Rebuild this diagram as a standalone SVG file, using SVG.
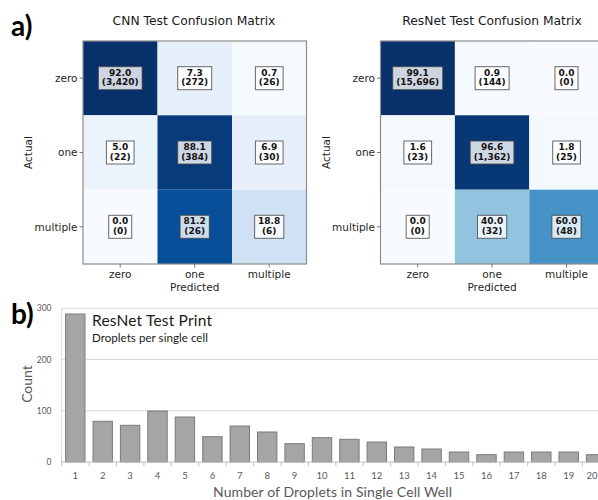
<svg xmlns="http://www.w3.org/2000/svg" width="598" height="500" viewBox="0 0 598 500">
<style>
.title{font-family:"DejaVu Sans",sans-serif;font-size:12.3px;fill:#1a1a1a;text-anchor:middle}
.tick{font-family:"DejaVu Sans",sans-serif;font-size:10.5px;fill:#262626}
.ytick{text-anchor:end}
.xtick{text-anchor:middle}
.frame{fill:none;stroke:#8c8c8c;stroke-width:1.2}
.tk{stroke:#555;stroke-width:0.8}
.box{fill:#fff;fill-opacity:0.8;stroke:#444;stroke-opacity:0.8;stroke-width:1}
.val{font-family:"DejaVu Sans",sans-serif;font-weight:bold;font-size:9px;fill:#111;text-anchor:middle}
.panel{font-family:Lato,"Open Sans",sans-serif;font-weight:bold;font-size:28px;fill:#000}
.bar{fill:#a5a5a5;stroke:#7a7a7a;stroke-width:1}
.grid{stroke:#d9d9d9;stroke-width:1}
.btick{font-family:Lato,"Open Sans",sans-serif;font-size:9.5px;fill:#595959;text-anchor:middle}
.bytick{font-family:Lato,"Open Sans",sans-serif;font-size:8.5px;fill:#595959;text-anchor:end}
.bax{font-family:Lato,"Open Sans",sans-serif;fill:#595959}
.note{font-family:Lato,"Open Sans",sans-serif;fill:#1a1a1a}
</style>

<text class="panel" x="11" y="36">a)</text>
<text class="panel" x="11" y="324">b)</text>

<g id="cnn-matrix">
  <text class="title" x="194" y="25">CNN Test Confusion Matrix</text>
  <rect x="83" y="41" width="74.5" height="74.3" fill="#08306b"/>
  <rect x="157.5" y="41" width="74.5" height="74.3" fill="#e7f0fa"/>
  <rect x="232" y="41" width="74.5" height="74.3" fill="#f5fafe"/>
  <rect x="83" y="115.3" width="74.5" height="74.4" fill="#ebf3fb"/>
  <rect x="157.5" y="115.3" width="74.5" height="74.4" fill="#083b7c"/>
  <rect x="232" y="115.3" width="74.5" height="74.4" fill="#e7f0fa"/>
  <rect x="83" y="189.7" width="74.5" height="74.3" fill="#f7fbff"/>
  <rect x="157.5" y="189.7" width="74.5" height="74.3" fill="#084f99"/>
  <rect x="232" y="189.7" width="74.5" height="74.3" fill="#cfe1f2"/>
  <rect class="frame" x="83" y="41" width="223.5" height="223"/>
  <path class="tk" d="M79.5 78.2H83M79.5 152.5H83M79.5 226.8H83M120.2 264V267.5M194.7 264V267.5M269.2 264V267.5"/>
  <text class="tick ytick" x="77.5" y="82">zero</text>
  <text class="tick ytick" x="77.5" y="156.3">one</text>
  <text class="tick ytick" x="77.5" y="230.6">multiple</text>
  <text class="tick xtick" x="120.2" y="278">zero</text>
  <text class="tick xtick" x="194.7" y="278">one</text>
  <text class="tick xtick" x="269.2" y="278">multiple</text>
  <text class="tick xtick" x="194.7" y="290.5">Predicted</text>
  <text class="tick xtick" x="31.5" y="152.5" transform="rotate(-90 31.5 152.5)">Actual</text>

  <rect class="box" x="98.4" y="66.7" width="43.7" height="23"/>
  <text class="val" x="120.2" y="75.7">92.0</text><text class="val" x="120.2" y="85.2">(3,420)</text>
  <rect class="box" x="177.7" y="66.7" width="34" height="23"/>
  <text class="val" x="194.7" y="75.7">7.3</text><text class="val" x="194.7" y="85.2">(272)</text>
  <rect class="box" x="255.4" y="66.7" width="27.7" height="23"/>
  <text class="val" x="269.2" y="75.7">0.7</text><text class="val" x="269.2" y="85.2">(26)</text>

  <rect class="box" x="106.4" y="141" width="27.7" height="23"/>
  <text class="val" x="120.2" y="150">5.0</text><text class="val" x="120.2" y="159.5">(22)</text>
  <rect class="box" x="177.7" y="141" width="34" height="23"/>
  <text class="val" x="194.7" y="150">88.1</text><text class="val" x="194.7" y="159.5">(384)</text>
  <rect class="box" x="255.4" y="141" width="27.7" height="23"/>
  <text class="val" x="269.2" y="150">6.9</text><text class="val" x="269.2" y="159.5">(30)</text>

  <rect class="box" x="108.7" y="215.3" width="23" height="23"/>
  <text class="val" x="120.2" y="224.3">0.0</text><text class="val" x="120.2" y="233.8">(0)</text>
  <rect class="box" x="180.1" y="215.3" width="29.2" height="23"/>
  <text class="val" x="194.7" y="224.3">81.2</text><text class="val" x="194.7" y="233.8">(26)</text>
  <rect class="box" x="254.6" y="215.3" width="29.2" height="23"/>
  <text class="val" x="269.2" y="224.3">18.8</text><text class="val" x="269.2" y="233.8">(6)</text>
</g>

<g id="resnet-matrix">
  <text class="title" x="492" y="25">ResNet Test Confusion Matrix</text>
  <rect x="380.5" y="41" width="74.4" height="74.3" fill="#08306b"/>
  <rect x="454.9" y="41" width="74.4" height="74.3" fill="#f5fafe"/>
  <rect x="529.3" y="41" width="74.4" height="74.3" fill="#f7fbff"/>
  <rect x="380.5" y="115.3" width="74.4" height="74.4" fill="#f4f9fe"/>
  <rect x="454.9" y="115.3" width="74.4" height="74.4" fill="#083775"/>
  <rect x="529.3" y="115.3" width="74.4" height="74.4" fill="#f4f9fe"/>
  <rect x="380.5" y="189.7" width="74.4" height="74.3" fill="#f7fbff"/>
  <rect x="454.9" y="189.7" width="74.4" height="74.3" fill="#92c4df"/>
  <rect x="529.3" y="189.7" width="74.4" height="74.3" fill="#4694c7"/>
  <rect class="frame" x="380.5" y="41" width="223.2" height="223"/>
  <path class="tk" d="M377 78.2H380.5M377 152.5H380.5M377 226.8H380.5M417.7 264V267.5M492.1 264V267.5M566.5 264V267.5"/>
  <text class="tick ytick" x="375" y="82">zero</text>
  <text class="tick ytick" x="375" y="156.3">one</text>
  <text class="tick ytick" x="375" y="230.6">multiple</text>
  <text class="tick xtick" x="417.7" y="278">zero</text>
  <text class="tick xtick" x="492.1" y="278">one</text>
  <text class="tick xtick" x="566.5" y="278">multiple</text>
  <text class="tick xtick" x="492.1" y="290.5">Predicted</text>
  <text class="tick xtick" x="329.5" y="152.5" transform="rotate(-90 329.5 152.5)">Actual</text>

  <rect class="box" x="392.7" y="66.7" width="50" height="23"/>
  <text class="val" x="417.7" y="75.7">99.1</text><text class="val" x="417.7" y="85.2">(15,696)</text>
  <rect class="box" x="475.1" y="66.7" width="34" height="23"/>
  <text class="val" x="492.1" y="75.7">0.9</text><text class="val" x="492.1" y="85.2">(144)</text>
  <rect class="box" x="555" y="66.7" width="23" height="23"/>
  <text class="val" x="566.5" y="75.7">0.0</text><text class="val" x="566.5" y="85.2">(0)</text>

  <rect class="box" x="403.9" y="141" width="27.7" height="23"/>
  <text class="val" x="417.7" y="150">1.6</text><text class="val" x="417.7" y="159.5">(23)</text>
  <rect class="box" x="470.2" y="141" width="43.7" height="23"/>
  <text class="val" x="492.1" y="150">96.6</text><text class="val" x="492.1" y="159.5">(1,362)</text>
  <rect class="box" x="552.7" y="141" width="27.7" height="23"/>
  <text class="val" x="566.5" y="150">1.8</text><text class="val" x="566.5" y="159.5">(25)</text>

  <rect class="box" x="406.2" y="215.3" width="23" height="23"/>
  <text class="val" x="417.7" y="224.3">0.0</text><text class="val" x="417.7" y="233.8">(0)</text>
  <rect class="box" x="477.5" y="215.3" width="29.2" height="23"/>
  <text class="val" x="492.1" y="224.3">40.0</text><text class="val" x="492.1" y="233.8">(32)</text>
  <rect class="box" x="551.9" y="215.3" width="29.2" height="23"/>
  <text class="val" x="566.5" y="224.3">60.0</text><text class="val" x="566.5" y="233.8">(48)</text>
</g>

<g id="histogram">
  <path class="grid" d="M61.7 308.3H598M61.7 359.5H598M61.7 410.7H598"/>
  <path d="M61.7 308.3V462" stroke="#d9d9d9" stroke-width="1"/>
  <text class="bytick" x="51.5" y="311.3">300</text>
  <text class="bytick" x="51.5" y="362.5">200</text>
  <text class="bytick" x="51.5" y="413.7">100</text>
  <text class="bytick" x="51.5" y="465">0</text>
  <text class="bax" x="31.5" y="384" font-size="14" text-anchor="middle" transform="rotate(-90 31.5 384)">Count</text>

  <rect class="bar" x="65.6" y="314" width="19.4" height="148"/>
  <rect class="bar" x="93.0" y="421.3" width="19.4" height="40.7"/>
  <rect class="bar" x="120.4" y="425.3" width="19.4" height="36.7"/>
  <rect class="bar" x="147.8" y="411" width="19.4" height="51"/>
  <rect class="bar" x="175.2" y="417" width="19.4" height="45"/>
  <rect class="bar" x="202.7" y="436.7" width="19.4" height="25.3"/>
  <rect class="bar" x="230.1" y="426" width="19.4" height="36"/>
  <rect class="bar" x="257.5" y="432" width="19.4" height="30"/>
  <rect class="bar" x="284.9" y="443.7" width="19.4" height="18.3"/>
  <rect class="bar" x="312.3" y="437.7" width="19.4" height="24.3"/>
  <rect class="bar" x="339.7" y="439.3" width="19.4" height="22.7"/>
  <rect class="bar" x="367.1" y="442" width="19.4" height="20"/>
  <rect class="bar" x="394.5" y="447" width="19.4" height="15"/>
  <rect class="bar" x="421.9" y="449" width="19.4" height="13"/>
  <rect class="bar" x="449.3" y="452" width="19.4" height="10"/>
  <rect class="bar" x="476.8" y="454.7" width="19.4" height="7.3"/>
  <rect class="bar" x="504.2" y="452" width="19.4" height="10"/>
  <rect class="bar" x="531.6" y="452" width="19.4" height="10"/>
  <rect class="bar" x="559.0" y="452" width="19.4" height="10"/>
  <rect class="bar" x="586.4" y="454.7" width="19.4" height="7.3"/>

  <path d="M61.7 462H598" stroke="#bfbfbf" stroke-width="1"/>
  <path d="M61.7 462v4M89.1 462v4M116.5 462v4M143.9 462v4M171.3 462v4M198.8 462v4M226.2 462v4M253.6 462v4M281 462v4M308.4 462v4M335.8 462v4M363.2 462v4M390.6 462v4M418 462v4M445.4 462v4M472.9 462v4M500.3 462v4M527.7 462v4M555.1 462v4M582.5 462v4" stroke="#bfbfbf" stroke-width="1"/>

  <text class="btick" x="75.3" y="479">1</text>
  <text class="btick" x="102.7" y="479">2</text>
  <text class="btick" x="130.1" y="479">3</text>
  <text class="btick" x="157.5" y="479">4</text>
  <text class="btick" x="184.9" y="479">5</text>
  <text class="btick" x="212.4" y="479">6</text>
  <text class="btick" x="239.8" y="479">7</text>
  <text class="btick" x="267.2" y="479">8</text>
  <text class="btick" x="294.6" y="479">9</text>
  <text class="btick" x="322.0" y="479">10</text>
  <text class="btick" x="349.4" y="479">11</text>
  <text class="btick" x="376.8" y="479">12</text>
  <text class="btick" x="404.2" y="479">13</text>
  <text class="btick" x="431.6" y="479">14</text>
  <text class="btick" x="459.0" y="479">15</text>
  <text class="btick" x="486.5" y="479">16</text>
  <text class="btick" x="513.9" y="479">17</text>
  <text class="btick" x="541.3" y="479">18</text>
  <text class="btick" x="568.7" y="479">19</text>
  <text class="btick" x="592" y="479">20</text>

  <text class="bax" x="213" y="497" font-size="14" textLength="239" lengthAdjust="spacing">Number of Droplets in Single Cell Well</text>
  <text class="note" x="92" y="326" font-size="15.5" textLength="120" lengthAdjust="spacing">ResNet Test Print</text>
  <text class="note" x="92" y="342" font-size="11.5" textLength="116" lengthAdjust="spacing">Droplets per single cell</text>
</g>
</svg>
